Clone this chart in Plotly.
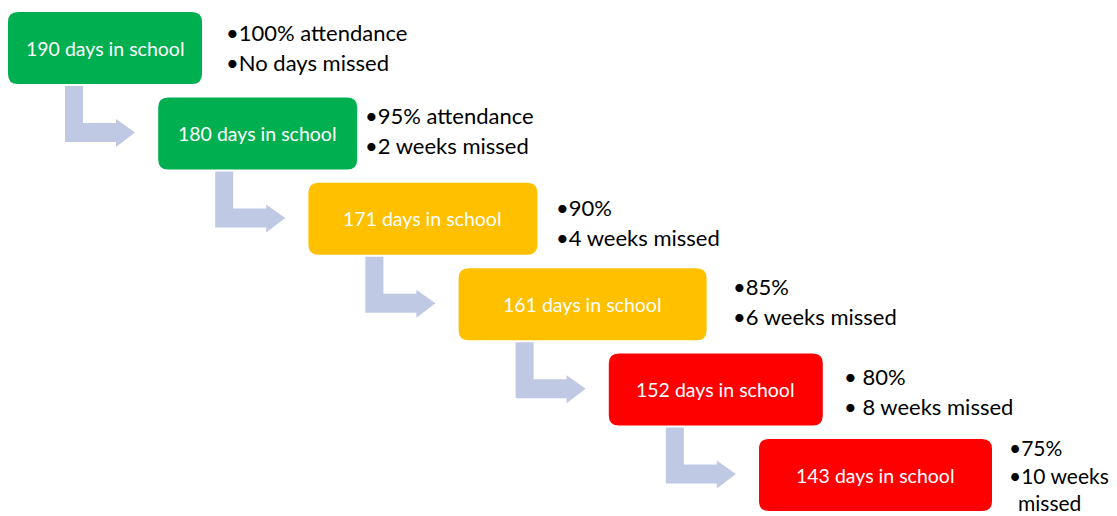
import plotly.graph_objects as go

# ---- data ----
days_in_school = [190, 180, 171, 161, 152, 143]
attendance_lines = ["100% attendance", "95% attendance", "90%", "85%", " 80%", "75%"]
missed_lines = ["No days missed", "2 weeks missed", "4 weeks missed", "6 weeks missed",
                " 8 weeks missed", "10 weeks missed"]
box_colors = ["#00B050", "#00B050", "#FFC000", "#FFC000", "#FF0000", "#FF0000"]

# ---- layout (pixel geometry) ----
W, H = 1117, 516
box_left0, box_dx = 8, 150.2
box_top0, box_dy = 12, 85.4
box_widths = [194, 199, 229, 248, 214, 233]
box_height = 72
radius = 10
text_x = [225, 364, 555, 732, 843, 1008]
line1_dy = [20, 18, 25, 18, 23, 8]
line_gaps = [30, 30, 30, 30, 30, 28]
text_sizes = [22, 22, 22, 22, 22, 21]
wrap_words = [None, None, None, None, None, 2]
arrow_color = "#C0C9E4"
arrow_x0, arrow_dx = 65, 150.2
arrow_y0, arrow_dy = 86, 85.4

def rounded_rect(x0, y0, x1, y1, r):
    return (f"M {x0+r},{y0} L {x1-r},{y0} Q {x1},{y0} {x1},{y0+r} "
            f"L {x1},{y1-r} Q {x1},{y1} {x1-r},{y1} L {x0+r},{y1} "
            f"Q {x0},{y1} {x0},{y1-r} L {x0},{y0+r} Q {x0},{y0} {x0+r},{y0} Z")

def bent_arrow(x, y):
    bw = 18          # bar width
    hb_top, hb_bot = y + 37, y + 56
    head_x, tip_x = x + 51, x + 70
    head_top, head_bot = y + 33, y + 61
    tip_y = (hb_top + hb_bot) / 2
    pts = [(x, y), (x + bw, y), (x + bw, hb_top), (head_x, hb_top), (head_x, head_top),
           (tip_x, tip_y), (head_x, head_bot), (head_x, hb_bot), (x, hb_bot)]
    return "M " + " L ".join(f"{px},{py}" for px, py in pts) + " Z"

fig = go.Figure()
fig.add_trace(go.Scatter(x=[0, W], y=[0, H], mode="markers", marker=dict(opacity=0),
                         hoverinfo="skip", showlegend=False))

shapes, annotations = [], []
n = len(days_in_school)
for i in range(n):
    x0 = box_left0 + box_dx * i
    y0 = box_top0 + box_dy * i
    x1 = x0 + box_widths[i]
    y1 = y0 + box_height
    shapes.append(dict(type="path", path=rounded_rect(x0, y0, x1, y1, radius),
                       fillcolor=box_colors[i], line=dict(width=0), layer="below"))
    annotations.append(dict(x=(x0 + x1) / 2, y=(y0 + y1) / 2, text=f"{days_in_school[i]} days in school",
                            showarrow=False, xanchor="center", yanchor="middle",
                            font=dict(family="Lato, sans-serif", size=19.5, color="white")))
    if i < n - 1:
        shapes.append(dict(type="path", path=bent_arrow(arrow_x0 + arrow_dx * i, arrow_y0 + arrow_dy * i),
                           fillcolor=arrow_color, line=dict(width=0), layer="below"))
    gap = line_gaps[i]
    ty1 = y0 + line1_dy[i]
    ty2 = ty1 + gap
    font = dict(family="Lato, sans-serif", size=text_sizes[i], color="black")
    common = dict(showarrow=False, xanchor="left", yanchor="middle", borderpad=0, font=font)
    annotations.append(dict(x=text_x[i], y=ty1, text="•" + attendance_lines[i], **common))
    words = missed_lines[i].split(" ")
    if wrap_words[i]:
        first = " ".join(words[:wrap_words[i]])
        rest = " ".join(words[wrap_words[i]:])
        annotations.append(dict(x=text_x[i], y=ty2, text="•" + first, **common))
        annotations.append(dict(x=text_x[i] + 9, y=ty2 + 27, text=rest, **common))
    else:
        annotations.append(dict(x=text_x[i], y=ty2, text="•" + missed_lines[i], **common))

fig.update_layout(
    width=W, height=H, margin=dict(l=0, r=0, t=0, b=0),
    paper_bgcolor="white", plot_bgcolor="white",
    xaxis=dict(range=[0, W], visible=False, fixedrange=True),
    yaxis=dict(range=[H, 0], visible=False, fixedrange=True),
    shapes=shapes, annotations=annotations, showlegend=False,
)
fig.write_html("out.html", config={"displayModeBar": False},
               post_script="document.body.style.margin='0';document.body.style.overflow='hidden';")
